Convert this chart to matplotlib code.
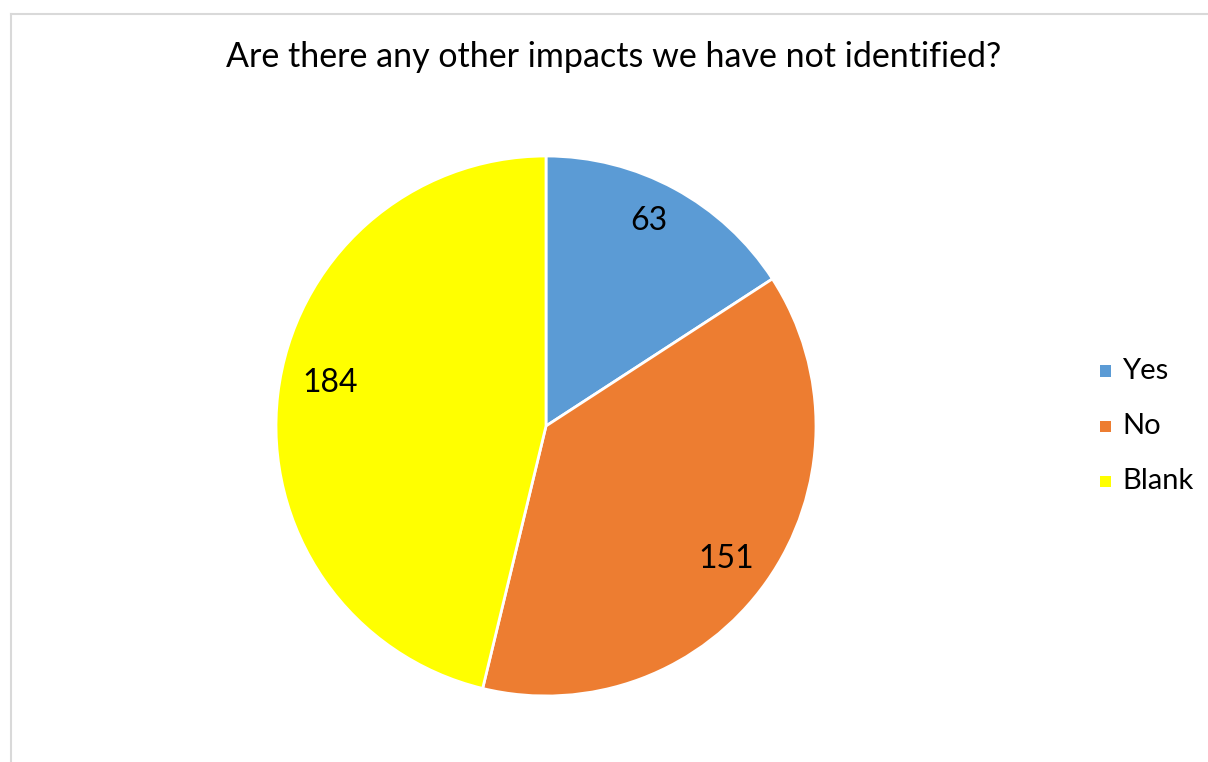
import matplotlib
matplotlib.use("Agg")
import matplotlib.pyplot as plt
from matplotlib.lines import Line2D
import numpy as np

title = "Are there any other impacts we have not identified?"
categories = ["Yes", "No", "Blank"]
values = [63, 151, 184]
colors = ["#5B9BD5", "#ED7D31", "#FFFF00"]

plt.rcParams['font.family'] = ['Lato', 'DejaVu Sans']

W, H = 1208, 762
fig = plt.figure(figsize=(W / 100, H / 100), dpi=100)
fig.patch.set_facecolor("white")

# border lines
fig.add_artist(Line2D([11 / W, 11 / W], [0, 1 - 13.5 / H], color="#D9D9D9", lw=1.5))
fig.add_artist(Line2D([11 / W, 1], [1 - 13.5 / H, 1 - 13.5 / H], color="#D9D9D9", lw=1.5))

cx, cy, r = 546, 426, 270
ax = fig.add_axes([(cx - r) / W, (H - cy - r) / H, 2 * r / W, 2 * r / H])
wedges, texts, autotexts = ax.pie(
    values, colors=colors, startangle=90, counterclock=False,
    autopct=lambda p: f"{round(p * sum(values) / 100):d}", pctdistance=0.84,
    wedgeprops=dict(edgecolor="white", linewidth=2), radius=1,
    textprops=dict(fontsize=23, color="black"))

# fine-tune label placement (angle shift in degrees, radius) to mimic Excel best-fit
label_adjust = [(2.0, 0.85), (-1.0, 0.83), (-4.5, 0.815)]
for w, t, (dang, rr) in zip(wedges, autotexts, label_adjust):
    mid = np.deg2rad((w.theta1 + w.theta2) / 2 + dang)
    t.set_position((rr * np.cos(mid), rr * np.sin(mid)))

ax.set_xlim(-1.0, 1.0)
ax.set_ylim(-1.0, 1.0)
ax.set_aspect("equal")
ax.axis("off")

fig.text(614 / W, 1 - 57 / H, title, ha="center", va="center", fontsize=24.5, color="black")

leg_y = [371, 426, 481]
for cat, col, yy in zip(categories, colors, leg_y):
    fig.patches.append(plt.Rectangle(((1100) / W, (H - yy - 5.5) / H), 11 / W, 11 / H,
                                     transform=fig.transFigure, facecolor=col, edgecolor="none"))
    fig.text(1122 / W, 1 - yy / H, cat, ha="left", va="center", fontsize=21, color="black")

fig.savefig("out.png", dpi=100, facecolor="white")
